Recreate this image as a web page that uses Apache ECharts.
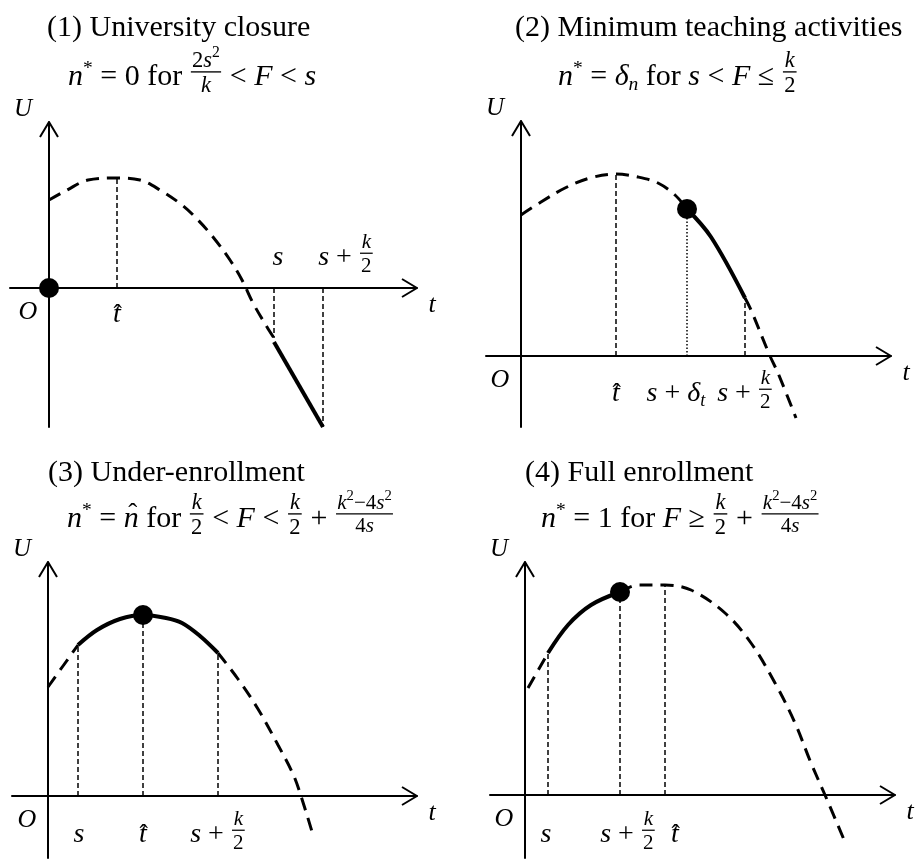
<!DOCTYPE html>
<html>
<head>
<meta charset="utf-8">
<script src="https://cdn.jsdelivr.net/npm/echarts@6/dist/echarts.min.js"></script>
<style>html,body{margin:0;padding:0;background:#fff}#c{width:916px;height:860px}</style>
</head>
<body>
<div id="c"></div>
<script>
// ---- Curve data: [t, U] in plot units, origin at O ----
// (1) University closure
const p1Dashed = [[0,88],[18,98],[39,108],[68,110],[91,108],[111,98],[133,83],[149,68],[164,51],[181,28],[193,8],[204,-15],[218,-39],[225,-50]];
const p1Solid = [[225,-54],[274,-139]];
const p1Dot = [[0,0]];
const p1Ticks = [68, 225, 274];
const p1Guides = [110, -50, -139];
const p1TickKeys = ['tHat', 's', 'sHalfK'];

// (2) Minimum teaching activities
const p2DashedA = [[0,141],[20,154],[44,168],[69,178],[95,182],[117,179],[137,173],[154,161],[166,147]];
const p2Solid = [[166,147],[190,119],[224,58]];
const p2DashedB = [[224,58],[230,46],[249,0],[257,-17],[275,-62]];
const p2Dot = [[166,147]];
const p2Ticks = [95, 166, 224];
const p2Guides = [182, 147, 58];
const p2TickKeys = ['tHat', 'sDelta', 'sHalfK'];

// (3) Under-enrollment
const p3DashedA = [[0,109],[30,151]];
const p3Solid = [[30,151],[49,166],[72,177],[95,181],[118,178],[134,173],[152,160],[170,143]];
const p3DashedB = [[170,143],[190,117],[210,87],[230,51],[245,22],[253,0],[265,-39]];
const p3Dot = [[95,181]];
const p3Ticks = [30, 95, 170];
const p3Guides = [151, 181, 143];
const p3TickKeys = ['s', 'tHat', 'sHalfK'];

// (4) Full enrollment
const p4DashedA = [[3,107],[23,142]];
const p4Solid = [[23,142],[43,170],[66,190],[95,203]];
const p4DashedB = [[95,203],[113,210],[140,210],[166,205],[200,182],[226,152],[250,112],[270,72],[286,32],[300,0],[320,-47]];
const p4Dot = [[95,203]];
const p4Ticks = [23, 95, 140];
const p4Guides = [142, 203, 210];
const p4TickKeys = ['s', 'sHalfK', 'tHat'];

const titles = ['(1) University closure', '(2) Minimum teaching activities', '(3) Under-enrollment', '(4) Full enrollment'];

// ---- math text tokens ----
const T = (t, f = 'it', s = 1, dy = 0) => ({t, f, s, dy});
const FR = (n, d, s = 0.72) => ({n, d, s});
const H = (t, dy = 0) => ({hat: t, dy});
const sq = () => T('2', 'rm', 0.7, -0.33);
const nStar = [T('n'), T('*', 'rm', 0.65, -0.28)];
const kOver2 = () => FR([T('k')], [T('2', 'rm')], 0.75);
const bigFrac = () => FR([T('k'), sq(), T('−4', 'rm'), T('s'), sq()], [T('4', 'rm'), T('s')], 0.7);

const subtitles = [
  [...nStar, T(' = 0 for ', 'rm'), FR([T('2', 'rm'), T('s'), sq()], [T('k')], 0.75), T(' < ', 'rm'), T('F'), T(' < ', 'rm'), T('s')],
  [...nStar, T(' = ', 'rm'), T('δ'), T('n', 'it', 0.65, 0.25), T(' for ', 'rm'), T('s'), T(' < ', 'rm'), T('F'), T(' ≤ ', 'rm'), kOver2()],
  [...nStar, T(' = ', 'rm'), H('n', -0.12), T(' for ', 'rm'), kOver2(), T(' < ', 'rm'), T('F'), T(' < ', 'rm'), kOver2(), T(' + ', 'rm'), bigFrac()],
  [...nStar, T(' = 1 for ', 'rm'), T('F'), T(' ≥ ', 'rm'), kOver2(), T(' + ', 'rm'), bigFrac()]
];

const tickLabels = {
  tHat: [H('t', 0)],
  s: [T('s')],
  sHalfK: [T('s'), T(' + ', 'rm'), FR([T('k')], [T('2', 'rm')], 0.75)],
  sDelta: [T('s'), T(' + ', 'rm'), T('δ'), T('t', 'it', 0.65, 0.25)]
};

// ---- panel layout ----
const panels = [
  {grid: {left: 10, top: 122, width: 407, height: 305}, x: [-39, 368], y: [-139, 166],
   dashed: [p1Dashed], solid: p1Solid, dot: p1Dot, ticks: p1Ticks, guides: p1Guides, keys: p1TickKeys,
   guideDash: ['d', 'd', 'd'], side: ['b', 'a', 'a'], dx: [0, 4, 23], below: 27,
   titlePos: [47, 28], subPos: [68, 77]},
  {grid: {left: 486, top: 121, width: 405, height: 306}, x: [-35, 370], y: [-71, 235],
   dashed: [p2DashedA, p2DashedB], solid: p2Solid, dot: p2Dot, ticks: p2Ticks, guides: p2Guides, keys: p2TickKeys,
   guideDash: ['d', 'o', 'd'], side: ['b', 'b', 'b'], dx: [0, -11, 0], below: 38,
   titlePos: [515, 28], subPos: [558, 77]},
  {grid: {left: 12, top: 562, width: 405, height: 296}, x: [-36, 369], y: [-62, 234],
   dashed: [p3DashedA, p3DashedB], solid: p3Solid, dot: p3Dot, ticks: p3Ticks, guides: p3Guides, keys: p3TickKeys,
   guideDash: ['d', 'd', 'd'], side: ['b', 'b', 'b'], dx: [1, 0, 0], below: 39,
   titlePos: [48, 473], subPos: [67, 519]},
  {grid: {left: 490, top: 562, width: 405, height: 296}, x: [-35, 370], y: [-63, 233],
   dashed: [p4DashedA, p4DashedB], solid: p4Solid, dot: p4Dot, ticks: p4Ticks, guides: p4Guides, keys: p4TickKeys,
   guideDash: ['d', 'd', 'd'], side: ['b', 'b', 'b'], dx: [-2, 8, 10], below: 40,
   titlePos: [525, 473], subPos: [541, 519]}
];

const BLACK = '#000';
const chart = echarts.init(document.getElementById('c'));
const grids = [], xAxes = [], yAxes = [], series = [];
panels.forEach((p, i) => {
  grids.push(p.grid);
  const axisBase = {type: 'value', gridIndex: i, axisLine: {onZero: true, lineStyle: {color: BLACK, width: 2}},
    axisTick: {show: false}, axisLabel: {show: false}, splitLine: {show: false}};
  xAxes.push({...axisBase, min: p.x[0], max: p.x[1]});
  yAxes.push({...axisBase, min: p.y[0], max: p.y[1]});
  const base = {type: 'line', xAxisIndex: i, yAxisIndex: i, symbol: 'none', silent: true, clip: false, animation: false};
  p.dashed.forEach(d => series.push({...base, data: d, smooth: 0.35, lineStyle: {color: BLACK, width: 3, type: [13, 8]}}));
  series.push({...base, data: p.solid, smooth: 0.35, lineStyle: {color: BLACK, width: 4}});
  p.ticks.forEach((t, k) => series.push({...base, data: [[t, 0], [t, p.guides[k]]],
    lineStyle: {color: BLACK, width: 1.5, type: p.guideDash[k] === 'o' ? [1.5, 2] : [5, 3]}}));
  // open arrowheads at the axis ends
  series.push({...base, data: [[p.x[1] - 15, 9], [p.x[1], 0], [p.x[1] - 15, -9]], lineStyle: {color: BLACK, width: 2}});
  series.push({...base, data: [[-9, p.y[1] - 15], [0, p.y[1]], [9, p.y[1] - 15]], lineStyle: {color: BLACK, width: 2}});
  series.push({type: 'scatter', xAxisIndex: i, yAxisIndex: i, data: p.dot, symbolSize: 20, silent: true, animation: false,
    itemStyle: {color: BLACK, opacity: 1}, z: 5});
});
chart.setOption({animation: false, grid: grids, xAxis: xAxes, yAxis: yAxes, series});

// ---- text layout ----
const SERIF = '"Liberation Serif"';
const mctx = document.createElement('canvas').getContext('2d');
const measure = (t, f) => { mctx.font = f; return mctx.measureText(t).width; };
const font = (kind, size) => (kind === 'it' ? 'italic ' : '') + size.toFixed(1) + 'px ' + SERIF;

function row(tokens, size) {
  let x = 0; const items = [];
  tokens.forEach(tk => {
    if (tk.n) {
      const fs = size * tk.s, nr = row(tk.n, fs), dr = row(tk.d, fs);
      const w = Math.max(nr.w, dr.w) + size * 0.16;
      const bar = -size * 0.17;
      items.push({line: [x + size * 0.04, x + w - size * 0.04, bar], lw: Math.max(1.2, size * 0.045)});
      nr.items.forEach(it => items.push(shift(it, x + (w - nr.w) / 2, bar - fs * 0.5)));
      dr.items.forEach(it => items.push(shift(it, x + (w - dr.w) / 2, bar + fs * 0.62)));
      x += w;
    } else if (tk.hat) {
      const f = font('it', size), w = measure(tk.hat, f);
      items.push({text: tk.hat, font: f, x, y: 0});
      items.push({text: 'ˆ', font: font('rm', size * 0.9), x: x + w * 0.6, y: tk.dy * size, center: true});
      x += w;
    } else {
      const f = font(tk.f, size * tk.s), w = measure(tk.t, f);
      items.push({text: tk.t, font: f, x, y: tk.dy * size});
      x += w;
    }
  });
  return {w: x, items};
}
function shift(it, dx, dy) {
  if (it.line) return {line: [it.line[0] + dx, it.line[1] + dx, it.line[2] + dy], lw: it.lw};
  return {...it, x: it.x + dx, y: it.y + dy};
}
function place(r, x0, y0, align, out) {
  const ox = align === 'center' ? x0 - r.w / 2 : x0;
  r.items.forEach(it => {
    if (it.line) {
      out.push({type: 'line', silent: true, shape: {x1: ox + it.line[0], y1: y0 + it.line[2], x2: ox + it.line[1], y2: y0 + it.line[2]},
        style: {stroke: BLACK, lineWidth: it.lw}});
    } else {
      out.push({type: 'text', silent: true, x: ox + it.x, y: y0 + it.y,
        style: {text: it.text, font: it.font, fill: BLACK, align: it.center ? 'center' : 'left', verticalAlign: 'middle'}});
    }
  });
}

const graphics = [];
panels.forEach((p, i) => {
  const px = v => chart.convertToPixel({gridIndex: i}, v);
  const O = px([0, 0]);
  const yTop = px([0, p.y[1]])[1];
  const xEnd = px([p.x[1], 0])[0];
  place(row([T(titles[i], 'rm')], 30), p.titlePos[0], p.titlePos[1], 'left', graphics);
  place(row(subtitles[i], 30), p.subPos[0], p.subPos[1], 'left', graphics);
  place(row([T('U')], 25), O[0] - 26, yTop - 13, 'center', graphics);
  place(row([T('O')], 26), O[0] - 21, O[1] + 24, 'center', graphics);
  place(row([T('t')], 26), xEnd + 15, O[1] + 17, 'center', graphics);
  p.ticks.forEach((t, k) => {
    const tx = px([t, 0])[0] + p.dx[k];
    const ty = p.side[k] === 'a' ? O[1] - 30 : O[1] + p.below;
    place(row(tickLabels[p.keys[k]], 28), tx, ty, 'center', graphics);
  });
});
chart.setOption({graphic: graphics});
</script>
</body>
</html>
